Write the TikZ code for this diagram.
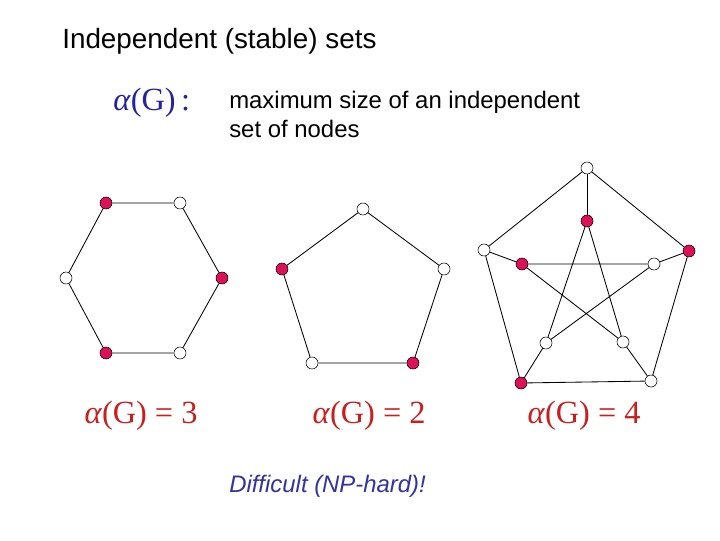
\documentclass[tikz,border=0pt]{standalone}
\usepackage{fontspec}
\setmainfont{Liberation Sans}
\newfontfamily\formfont{Liberation Serif}
\definecolor{vred}{RGB}{222,16,88}
\definecolor{fblue}{RGB}{35,35,160}
\definecolor{fred}{RGB}{200,30,30}
\definecolor{hblue}{RGB}{50,50,160}

\begin{document}
\begin{tikzpicture}[x=0.025cm, y=-0.025cm,
    wv/.style={circle, draw, fill=white, inner sep=0pt, minimum size=0.3cm},
    rv/.style={wv, fill=vred},
    edge/.style={line width=0.6pt},
    formula/.style={inner sep=0pt, font=\formfont\fontsize{23}{28}\selectfont}]
    \useasboundingbox (0,0) rectangle (720,540);

    % Titel und Text
    \node[anchor=base west, inner sep=0pt, font=\fontsize{19.8}{24}\selectfont] (title) at (62,48) {Independent (stable) sets};
    \node[formula, anchor=base west, text=fblue] (alpha) at (113,110) {\textit{α}(G)\,:};
    \node[anchor=base west, inner sep=0pt, align=left, font=\fontsize{17}{20.6}\selectfont] (defn) at (229,137) {maximum size of an independent\\set of nodes};

    % Sechseck
    \node[rv] (h1) at (106,203) {};
    \node[wv] (h2) at (180,203) {};
    \node[rv] (h3) at (222,278) {};
    \node[wv] (h4) at (180,353) {};
    \node[rv] (h5) at (106,353) {};
    \node[wv] (h6) at (66,278) {};
    \draw[edge] (h1) -- (h2) -- (h3) -- (h4) -- (h5) -- (h6) -- (h1);

    % Fuenfeck
    \node[wv] (p1) at (363,209) {};
    \node[wv] (p2) at (444,269) {};
    \node[rv] (p3) at (413,363) {};
    \node[wv] (p4) at (312,363) {};
    \node[rv] (p5) at (282,269) {};
    \draw[edge] (p1) -- (p2) -- (p3) -- (p4) -- (p5) -- (p1);

    % Petersen-Graph
    \node[wv] (o1) at (587,168) {};
    \node[rv] (o2) at (689,251) {};
    \node[wv] (o3) at (651,381) {};
    \node[rv] (o4) at (521,383) {};
    \node[wv] (o5) at (484,250) {};
    \node[rv] (i1) at (587,221) {};
    \node[wv] (i2) at (654,264) {};
    \node[wv] (i3) at (623,342) {};
    \node[wv] (i4) at (546,343) {};
    \node[rv] (i5) at (522,264) {};
    \draw[edge] (o1) -- (o2) -- (o3) -- (o4) -- (o5) -- (o1);
    \draw[edge] (o1) -- (i1);
    \draw[edge] (o2) -- (i2);
    \draw[edge] (o3) -- (i3);
    \draw[edge] (o4) -- (i4);
    \draw[edge] (o5) -- (i5);
    \draw[edge] (i1) -- (i3) -- (i5) -- (i2) -- (i4) -- (i1);

    % Werte
    \node[formula, anchor=base, text=fred] (a3) at (141,423) {\textit{α}(G) = 3};
    \node[formula, anchor=base, text=fred] (a2) at (369,423) {\textit{α}(G) = 2};
    \node[formula, anchor=base, text=fred] (a4) at (584,423) {\textit{α}(G) = 4};

    \node[anchor=base west, inner sep=0pt, text=hblue, font=\itshape\fontsize{17}{20.6}\selectfont] (hard) at (229,492) {Difficult (NP-hard)!};
\end{tikzpicture}
\end{document}
